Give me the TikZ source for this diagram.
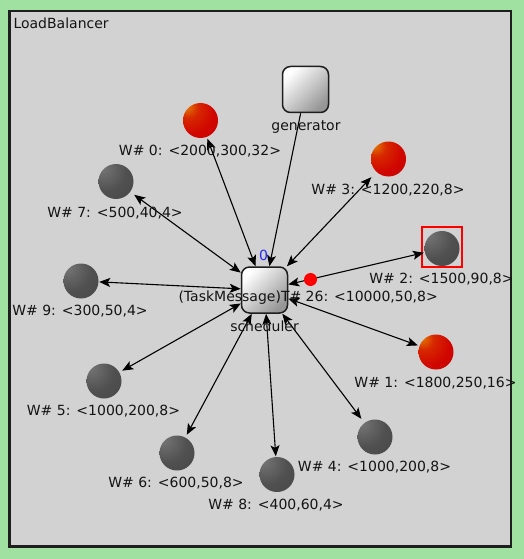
\documentclass[tikz,border=0pt]{standalone}
\usepackage{fontspec}
\setmainfont{DejaVu Sans}
\usetikzlibrary{arrows.meta}
\definecolor{bggreen}{RGB}{160,224,160}
\definecolor{bggray}{RGB}{210,210,210}
\definecolor{frame}{RGB}{30,30,30}
\definecolor{modgray}{RGB}{150,150,150}
\definecolor{lblblue}{RGB}{40,40,255}
\definecolor{rbhi}{RGB}{225,125,0}
\definecolor{rbmid}{RGB}{215,40,0}
\definecolor{rbbody}{RGB}{208,6,0}
\definecolor{rbedge}{RGB}{190,0,0}
\definecolor{gbhi}{RGB}{118,118,118}
\definecolor{gbbody}{RGB}{80,80,80}
\definecolor{gbedge}{RGB}{62,62,62}
\pgfdeclareradialshading{redball}{\pgfpoint{-20bp}{20bp}}{color(0bp)=(rbhi); color(14bp)=(rbmid); color(32bp)=(rbbody); color(75bp)=(rbedge); color(100bp)=(rbedge)}
\pgfdeclareradialshading{grayball}{\pgfpoint{-20bp}{20bp}}{color(0bp)=(gbhi); color(28bp)=(gbbody); color(75bp)=(gbedge); color(100bp)=(gbedge)}
\tikzset{
  x=1pt, y=-1pt,
  txt/.style={font=\fontsize{14}{16}\selectfont, inner sep=0pt, text=black!92},
  wlbl/.style={txt, anchor=base},
  redw/.style={rectangle, minimum size=36pt, inner sep=0pt,
    path picture={\shade[shading=redball] (path picture bounding box.center) circle (17.5pt);}},
  grayw/.style={rectangle, minimum size=36pt, inner sep=0pt,
    path picture={\shade[shading=grayball] (path picture bounding box.center) circle (17.5pt);}},
  module/.style={rectangle, rounded corners=8pt, minimum size=46pt, inner sep=0pt,
    draw=frame, line width=1.5pt, top color=white, bottom color=modgray, shading angle=45},
  tip/.style={Stealth[length=11pt,width=9pt,inset=2.5pt]},
  conn/.style={line width=1.1pt, draw=black, {Stealth[length=11pt,width=9pt,inset=2.5pt]}-{Stealth[length=11pt,width=9pt,inset=2.5pt]}},
  oneway/.style={line width=1.1pt, draw=black, -{Stealth[length=11pt,width=9pt,inset=2.5pt]}}
}
\begin{document}
\begin{tikzpicture}
\useasboundingbox (0,0) rectangle (524,559);
\fill[bggreen] (0,0) rectangle (524,559);
\draw[frame, fill=bggray, line width=2.5pt] (9.5,11) rectangle (511,546.5);
\node[txt, anchor=base west] (title) at (13.3,29) {LoadBalancer};

% modules
\node[module] (gen) at (305.5,89.5) {};
\node[module] (sched) at (264.5,290) {};

% workers
\node[redw]  (w0) at (200.5,120.5) {};
\node[redw]  (w3) at (388.5,159) {};
\node[grayw] (w7) at (116,181.5) {};
\node[grayw] (w9) at (81,281) {};
\node[grayw] (w2) at (442,248.5) {};
\node[redw]  (w1) at (436,352) {};
\node[grayw] (w4) at (375,437) {};
\node[grayw] (w5) at (104,381) {};
\node[grayw] (w6) at (177,453) {};
\node[grayw] (w8) at (277,474.5) {};

% highlight of w2
\node[draw=red, line width=2pt, minimum size=40pt, inner sep=0pt] (sel) at (441.5,247) {};

% connections
\draw[oneway] (gen) -- (sched);
\foreach \w in {w0,w3,w7,w9,w2,w1,w4,w5,w6,w8}{
  \draw[conn] (sched) -- (\w);
}

% message in transit
\node[circle, fill=red, minimum size=13pt, inner sep=0pt] (msg) at (310.5,279.5) {};

% labels
\node[wlbl] (lgen) at (306,131) {generator};
\node[wlbl] (lsched) at (264.5,331) {scheduler};
\node[txt, anchor=base, text=lblblue] (lq) at (263.5,260.7) {0};
\node[txt, anchor=base west] (lmsg) at (178.3,301.5) {(TaskMessage)T\# 26: <10000,50,8>};
\node[wlbl] (l0) at (200,155) {W\# 0: <2000,300,32>};
\node[wlbl] (l3) at (388,194) {W\# 3: <1200,220,8>};
\node[wlbl] (l7) at (115,217) {W\# 7: <500,40,4>};
\node[wlbl] (l9) at (80,315) {W\# 9: <300,50,4>};
\node[wlbl] (l2) at (441.5,283) {W\# 2: <1500,90,8>};
\node[wlbl] (l1) at (435.5,387) {W\# 1: <1800,250,16>};
\node[wlbl] (l4) at (374.5,471.5) {W\# 4: <1000,200,8>};
\node[wlbl] (l5) at (103.5,415.5) {W\# 5: <1000,200,8>};
\node[wlbl] (l6) at (176,487) {W\# 6: <600,50,8>};
\node[wlbl] (l8) at (276,509) {W\# 8: <400,60,4>};
\end{tikzpicture}
\end{document}
